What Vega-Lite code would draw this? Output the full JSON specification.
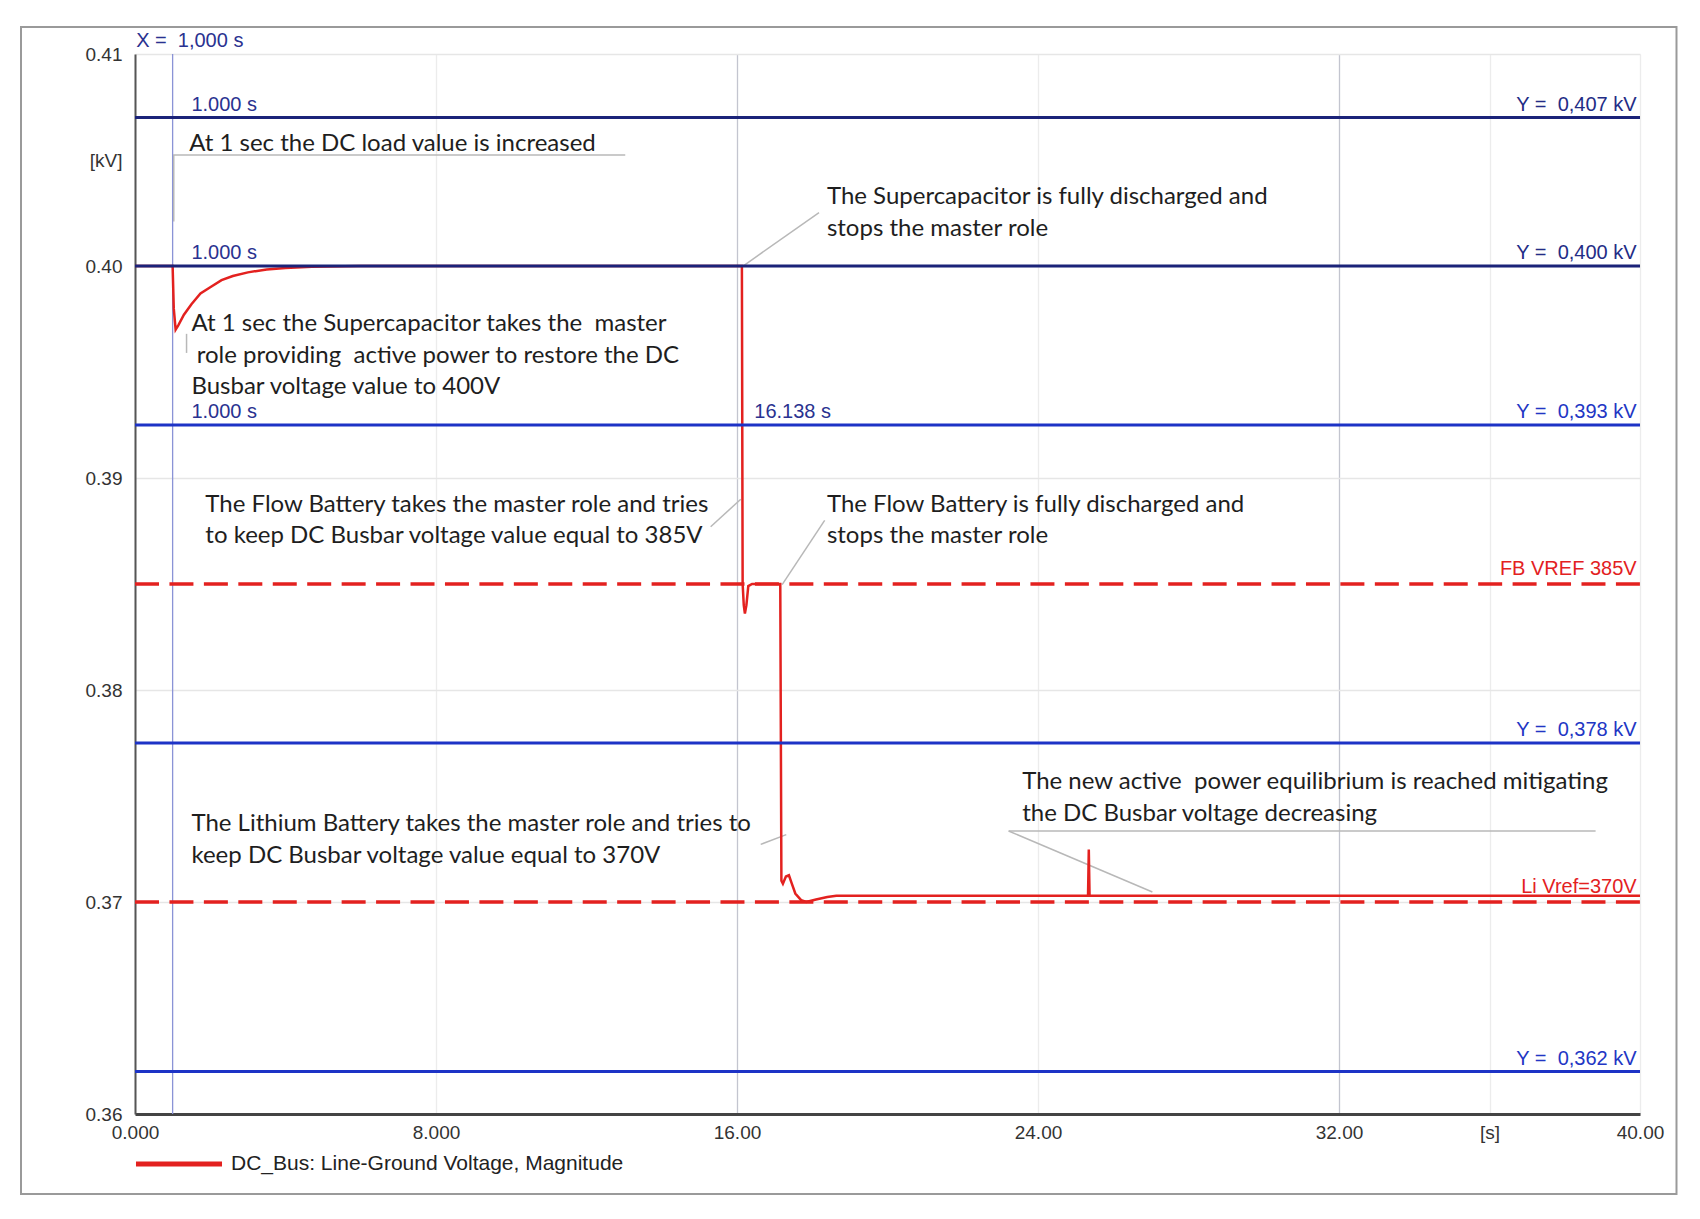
{
  "$schema": "https://vega.github.io/schema/vega-lite/v6.json",
  "width": 1505,
  "height": 1060,
  "autosize": {"type": "none"},
  "padding": {"left": 135, "top": 54, "right": 60, "bottom": 105},
  "background": "white",
  "config": {"view": {"stroke": null}, "font": "Liberation Sans"},
  "datasets": {
    "frame": [{"x0": -3.03, "x1": 40.97, "y0": 0.35623, "y1": 0.41127}],
    "xcursor": [{"x": 1}],
    "ylines": [
      {"y": 0.407, "label": "Y =\u00a0 0,407 kV"},
      {"y": 0.4, "label": "Y =\u00a0 0,400 kV"},
      {"y": 0.3925, "label": "Y =\u00a0 0,393 kV"},
      {"y": 0.3775, "label": "Y =\u00a0 0,378 kV"},
      {"y": 0.362, "label": "Y =\u00a0 0,362 kV"}
    ],
    "refs": [
      {"y": 0.385, "label": "FB VREF 385V"},
      {"y": 0.37, "label": "Li Vref=370V"}
    ],
    "xlabels": [
      {"x": 0.03, "y": 0.41, "text": "X =\u00a0 1,000 s"},
      {"x": 1.5, "y": 0.407, "text": "1.000 s"},
      {"x": 1.5, "y": 0.4, "text": "1.000 s"},
      {"x": 1.5, "y": 0.3925, "text": "1.000 s"},
      {"x": 16.46, "y": 0.3925, "text": "16.138 s"}
    ],
    "leaders": [
      {"x": 1.01, "y": 0.40523, "x2": 13.03, "y2": 0.40523},
      {"x": 1.03, "y": 0.40523, "x2": 1.03, "y2": 0.4021},
      {"x": 16.17, "y": 0.40001, "x2": 18.18, "y2": 0.40252},
      {"x": 1.37, "y": 0.3968, "x2": 1.37, "y2": 0.3959},
      {"x": 15.3, "y": 0.3877, "x2": 16.1, "y2": 0.389},
      {"x": 17.2, "y": 0.38497, "x2": 18.33, "y2": 0.388},
      {"x": 16.63, "y": 0.37272, "x2": 17.31, "y2": 0.37318},
      {"x": 23.22, "y": 0.37335, "x2": 38.82, "y2": 0.37335},
      {"x": 23.22, "y": 0.37335, "x2": 27.04, "y2": 0.37047}
    ],
    "notes": [
      {"x": 1.44, "y": 0.40574, "text": "At 1 sec the DC load value is increased"},
      {"x": 18.39, "y": 0.40324, "text": "The Supercapacitor is fully discharged and"},
      {"x": 18.39, "y": 0.40175, "text": "stops the master role"},
      {"x": 1.5, "y": 0.39725, "text": "At 1 sec the Supercapacitor takes the\u00a0 master"},
      {"x": 1.64, "y": 0.39577, "text": "role providing\u00a0 active power to restore the DC"},
      {"x": 1.5, "y": 0.39428, "text": "Busbar voltage value to 400V"},
      {"x": 1.87, "y": 0.38875, "text": "The Flow Battery takes the master role and tries"},
      {"x": 1.87, "y": 0.38727, "text": "to keep DC Busbar voltage value equal to 385V"},
      {"x": 18.39, "y": 0.38875, "text": "The Flow Battery is fully discharged and"},
      {"x": 18.39, "y": 0.38727, "text": "stops the master role"},
      {"x": 1.5, "y": 0.37366, "text": "The Lithium Battery takes the master role and tries to"},
      {"x": 1.5, "y": 0.37218, "text": "keep DC Busbar voltage value equal to 370V"},
      {"x": 23.58, "y": 0.37566, "text": "The new active\u00a0 power equilibrium is reached mitigating"},
      {"x": 23.58, "y": 0.37417, "text": "the DC Busbar voltage decreasing"}
    ],
    "curve": [
      {"t": 0, "v": 0.4},
      {"t": 1.0, "v": 0.4},
      {"t": 1.03, "v": 0.398},
      {"t": 1.08, "v": 0.397},
      {"t": 1.15, "v": 0.3972},
      {"t": 1.3, "v": 0.3977},
      {"t": 1.5, "v": 0.3982},
      {"t": 1.74, "v": 0.3987},
      {"t": 2.0, "v": 0.399},
      {"t": 2.3, "v": 0.39933},
      {"t": 2.6, "v": 0.39953},
      {"t": 3.0, "v": 0.3997},
      {"t": 3.5, "v": 0.39984},
      {"t": 4.0, "v": 0.39991},
      {"t": 4.7, "v": 0.39997},
      {"t": 6.0, "v": 0.4},
      {"t": 16.13, "v": 0.4},
      {"t": 16.15, "v": 0.385},
      {"t": 16.18, "v": 0.384},
      {"t": 16.21, "v": 0.38361},
      {"t": 16.25, "v": 0.384},
      {"t": 16.3, "v": 0.3849},
      {"t": 16.4, "v": 0.385},
      {"t": 17.15, "v": 0.385},
      {"t": 17.18, "v": 0.371},
      {"t": 17.22, "v": 0.37086},
      {"t": 17.3, "v": 0.3712},
      {"t": 17.38, "v": 0.37126},
      {"t": 17.45, "v": 0.3709},
      {"t": 17.55, "v": 0.3704},
      {"t": 17.71, "v": 0.37008},
      {"t": 17.84, "v": 0.37},
      {"t": 18.1, "v": 0.37012},
      {"t": 18.4, "v": 0.37024},
      {"t": 18.64, "v": 0.3703},
      {"t": 25.33, "v": 0.3703},
      {"t": 25.35, "v": 0.37248},
      {"t": 25.37, "v": 0.3703},
      {"t": 40, "v": 0.3703}
    ]
  },
  "layer": [
    {
      "data": {"name": "frame"},
      "mark": {"type": "rect", "fill": "transparent", "stroke": "#9a9a9a", "strokeWidth": 2},
      "encoding": {
        "x": {"field": "x0", "type": "quantitative", "title": null, "scale": {"domain": [0, 40], "nice": false, "zero": false}},
        "x2": {"field": "x1"},
        "y": {"field": "y0", "type": "quantitative", "title": null, "scale": {"domain": [0.36, 0.41], "nice": false, "zero": false}},
        "y2": {"field": "y1"}
      }
    },
    {
      "data": {"name": "xcursor"},
      "mark": {"type": "rule", "color": "#8a93d6", "strokeWidth": 1.3},
      "encoding": {
        "x": {"field": "x", "type": "quantitative", "title": null, "scale": {"domain": [0, 40], "nice": false, "zero": false}}
      }
    },
    {
      "data": {"name": "leaders"},
      "mark": {"type": "rule", "color": "#b8b8b8", "strokeWidth": 1.5},
      "encoding": {
        "x": {"field": "x", "type": "quantitative", "title": null, "scale": {"domain": [0, 40], "nice": false, "zero": false}},
        "x2": {"field": "x2"},
        "y": {"field": "y", "type": "quantitative", "title": null, "scale": {"domain": [0.36, 0.41], "nice": false, "zero": false}},
        "y2": {"field": "y2"}
      }
    },
    {
      "data": {"name": "curve"},
      "mark": {"type": "line", "strokeWidth": 2.5, "interpolate": "linear"},
      "encoding": {
        "x": {
          "field": "t", "type": "quantitative", "title": null,
          "scale": {"domain": [0, 40], "nice": false, "zero": false},
          "axis": {
            "title": null,
            "values": [0, 8, 16, 24, 32, 36, 40],
            "labelExpr": "datum.value == 36 ? '[s]' : (datum.value < 10 ? format(datum.value, '.3f') : format(datum.value, '.2f'))",
            "labelFont": "Liberation Sans",
            "labelFontSize": 19,
            "labelColor": "#333333",
            "labelPadding": 9,
            "labelOverlap": false,
            "labelFlush": false,
            "ticks": false,
            "domainColor": "#444444",
            "domainWidth": 3,
            "grid": true,
            "gridWidth": 1.3,
            "gridColor": {"condition": {"test": "datum.value == 16 || datum.value == 32", "value": "#c3c5cf"}, "value": "#ececec"}
          }
        },
        "y": {
          "field": "v", "type": "quantitative", "title": null,
          "scale": {"domain": [0.36, 0.41], "nice": false, "zero": false},
          "axis": {
            "title": null,
            "values": [0.36, 0.37, 0.38, 0.39, 0.4, 0.405, 0.41],
            "labelExpr": "(datum.value > 0.4049 && datum.value < 0.4051) ? '[kV]' : format(datum.value, '.2f')",
            "labelFont": "Liberation Sans",
            "labelFontSize": 19,
            "labelColor": "#333333",
            "labelPadding": 13,
            "labelOverlap": false,
            "labelFlush": false,
            "ticks": false,
            "domainColor": "#555555",
            "domainWidth": 2,
            "grid": true,
            "gridWidth": 1.3,
            "gridColor": {"condition": {"test": "datum.value > 0.4049 && datum.value < 0.4051", "value": "transparent"}, "value": "#e6e6e6"}
          }
        },
        "color": {
          "datum": "DC_Bus: Line-Ground Voltage, Magnitude",
          "type": "nominal",
          "scale": {"range": ["#e3211f"]},
          "legend": {
            "orient": "none", "legendX": -2, "legendY": 1064, "title": null,
            "symbolType": "stroke", "symbolSize": 7400, "symbolStrokeWidth": 5,
            "labelFont": "Liberation Sans", "labelFontSize": 21, "labelColor": "#222222",
            "labelOffset": 6, "labelLimit": 0, "padding": 0
          }
        }
      }
    },
    {
      "data": {"name": "ylines"},
      "mark": {"type": "rule", "strokeWidth": 3},
      "encoding": {
        "y": {"field": "y", "type": "quantitative", "title": null, "scale": {"domain": [0.36, 0.41], "nice": false, "zero": false}},
        "color": {"condition": {"test": "datum.y >= 0.4", "value": "#1b2379"}, "value": "#1d33c6"}
      }
    },
    {
      "data": {"name": "refs"},
      "mark": {"type": "rule", "color": "#e3211f", "strokeWidth": 3.5, "strokeDash": [24, 10.44]},
      "encoding": {
        "x": {"datum": 0, "type": "quantitative", "title": null, "scale": {"domain": [0, 40], "nice": false, "zero": false}},
        "x2": {"datum": 40},
        "y": {"field": "y", "type": "quantitative", "title": null, "scale": {"domain": [0.36, 0.41], "nice": false, "zero": false}}
      }
    },
    {
      "data": {"name": "notes"},
      "mark": {"type": "text", "font": "Lato", "fontSize": 24, "color": "#1e1e1e", "align": "left", "baseline": "middle"},
      "encoding": {
        "x": {"field": "x", "type": "quantitative", "title": null, "scale": {"domain": [0, 40], "nice": false, "zero": false}},
        "y": {"field": "y", "type": "quantitative", "title": null, "scale": {"domain": [0.36, 0.41], "nice": false, "zero": false}},
        "text": {"field": "text"}
      }
    },
    {
      "data": {"name": "xlabels"},
      "mark": {"type": "text", "font": "Liberation Sans", "fontSize": 20, "color": "#2a3290", "align": "left", "baseline": "middle", "dy": -13},
      "encoding": {
        "x": {"field": "x", "type": "quantitative", "title": null, "scale": {"domain": [0, 40], "nice": false, "zero": false}},
        "y": {"field": "y", "type": "quantitative", "title": null, "scale": {"domain": [0.36, 0.41], "nice": false, "zero": false}},
        "text": {"field": "text"}
      }
    },
    {
      "data": {"name": "ylines"},
      "mark": {"type": "text", "font": "Liberation Sans", "fontSize": 20, "align": "right", "baseline": "middle", "dy": -13},
      "encoding": {
        "x": {"datum": 39.91, "type": "quantitative", "title": null, "scale": {"domain": [0, 40], "nice": false, "zero": false}},
        "y": {"field": "y", "type": "quantitative", "title": null, "scale": {"domain": [0.36, 0.41], "nice": false, "zero": false}},
        "text": {"field": "label"},
        "color": {"condition": {"test": "datum.y >= 0.4", "value": "#232c86"}, "value": "#2236c4"}
      }
    },
    {
      "data": {"name": "refs"},
      "mark": {"type": "text", "font": "Liberation Sans", "fontSize": 20, "color": "#e3211f", "align": "right", "baseline": "middle", "dy": -15},
      "encoding": {
        "x": {"datum": 39.91, "type": "quantitative", "title": null, "scale": {"domain": [0, 40], "nice": false, "zero": false}},
        "y": {"field": "y", "type": "quantitative", "title": null, "scale": {"domain": [0.36, 0.41], "nice": false, "zero": false}},
        "text": {"field": "label"}
      }
    }
  ]
}
